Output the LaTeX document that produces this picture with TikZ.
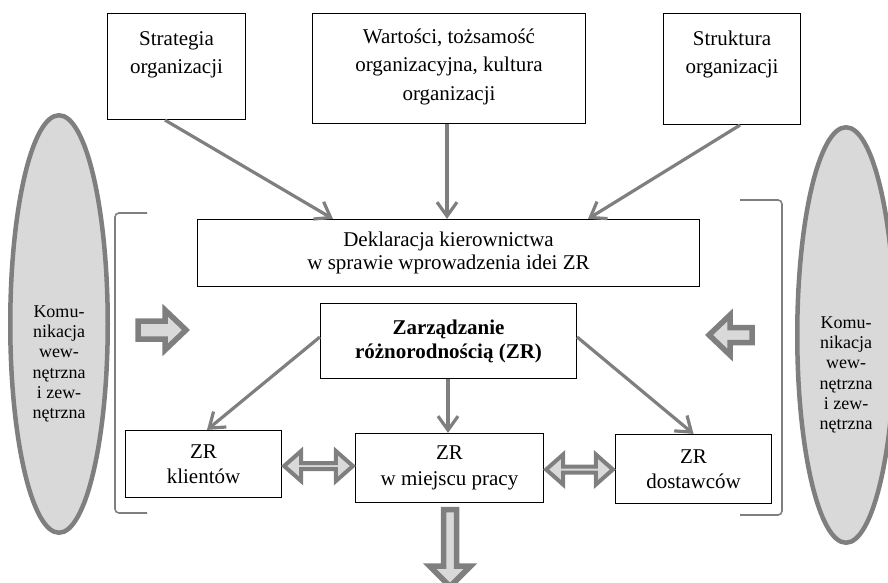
\documentclass[tikz,border=0pt]{standalone}
\usepackage{fontspec}
\setmainfont{Liberation Serif}
\usetikzlibrary{arrows.meta,calc,shapes.geometric}
\definecolor{lg}{HTML}{7F7F7F}
\definecolor{fillg}{HTML}{D9D9D9}
\begin{document}
\begin{tikzpicture}[x=1pt,y=-1pt,
  box/.style={draw=black, line width=1.2pt, inner sep=0pt, align=center,
    font=\fontsize{21}{24}\selectfont},
  toptxt/.style={inner sep=0pt, anchor=north, align=center,
    font=\fontsize{21}{28.5}\selectfont},
  elltxt/.style={inner sep=0pt, anchor=north, align=center,
    font=\fontsize{18}{20.3}\selectfont},
  ell/.style={ellipse, draw=lg, fill=fillg, line width=4.5pt, inner sep=0pt},
  conn/.style={draw=lg, line width=3.2pt, -{Straight Barb[length=14pt,width=20pt]}},
  blk/.style={draw=lg, fill=fillg, line width=5.5pt, line join=miter},
  blkthin/.style={draw=lg, fill=fillg, line width=4pt, line join=miter},
  brk/.style={draw=lg, line width=1.6pt, rounded corners=4pt}
]
\useasboundingbox (0,0) rectangle (888,583);

% side ellipses
\node[ell, minimum width=97.5pt, minimum height=417.5pt] (ell1) at (59,324) {};
\node[elltxt] (ell1t) at (59,303.5) {\rule{0pt}{13.5pt}Komu-\\nikacja\\wew-\\nętrzna\\i zew-\\nętrzna};
\node[ell, minimum width=97.5pt, minimum height=415.5pt] (ell2) at (846,335) {};
\node[elltxt] (ell2t) at (846,314.5) {\rule{0pt}{13.5pt}Komu-\\nikacja\\wew-\\nętrzna\\i zew-\\nętrzna};

% top boxes
\node[box, minimum width=138pt, minimum height=106pt] (str) at (176.5,66.5) {};
\node[toptxt] (strt) at (176.5,29.25) {\rule{0pt}{15.75pt}Strategia\\organizacji};
\node[box, minimum width=273pt, minimum height=110pt] (war) at (449,68.5) {};
\node[toptxt] (wart) at (449,27.25) {\rule{0pt}{15.75pt}Wartości, tożsamość\\organizacyjna, kultura\\organizacji};
\node[box, minimum width=137pt, minimum height=111pt] (stu) at (732,69) {};
\node[toptxt] (stut) at (732,29.25) {\rule{0pt}{15.75pt}Struktura\\organizacji};

% central boxes
\node[box, minimum width=502pt, minimum height=67pt,
  font=\fontsize{21}{23}\selectfont] (dek) at (448.5,253) {Deklaracja kierownictwa\\w sprawie wprowadzenia idei ZR};
\node[box, minimum width=256pt, minimum height=75pt,
  font=\fontsize{21}{24}\selectfont\bfseries] (zr) at (448.5,341) {Zarządzanie\\różnorodnością (ZR)};
\node[box, minimum width=156pt, minimum height=67pt,
  font=\fontsize{21}{25}\selectfont] (kl) at (203.5,464) {ZR\\klientów};
\node[box, minimum width=188pt, minimum height=69pt,
  font=\fontsize{21}{26}\selectfont] (mid) at (449.5,468) {ZR\\w miejscu pracy};
\node[box, minimum width=156pt, minimum height=69pt,
  font=\fontsize{21}{25}\selectfont] (dos) at (693.5,469) {ZR\\dostawców};

% brackets
\draw[brk] (147,213) -- (115,213) -- (115,513) -- (147,513);
\draw[brk] (740,200) -- (782,200) -- (782,515) -- (740,515);

% connectors
\draw[conn] ([xshift=-11.5pt]str.south) -- ([xshift=-115.5pt]dek.north);
\draw[conn] ([xshift=-2pt]war.south) -- ([xshift=-1.5pt]dek.north);
\draw[conn] ([xshift=8pt]stu.south) -- ([xshift=139.5pt]dek.north);
\draw[conn] ([yshift=4pt]zr.west) -- ([xshift=3.5pt]kl.north);
\draw[conn] ([xshift=-0.5pt]zr.south) -- ([xshift=-1.5pt]mid.north);
\draw[conn] ([yshift=4pt]zr.east) -- (dos.north);

% side block arrows
\draw[blk] (138,321) -- (165,321) -- (165,310) -- (186,330) -- (165,350) -- (165,339) -- (138,339) -- cycle;
\draw[blk] (752,327.5) -- (730,327.5) -- (730,315) -- (709,335) -- (730,355) -- (730,342.5) -- (752,342.5) -- cycle;

% double arrows between ZR boxes
\coordinate (dl) at ($(kl.east)!.5!(mid.west)$);
\coordinate (tL1) at ($(kl.east |- dl)+(2pt,0pt)$);
\coordinate (tR1) at ($(mid.west |- dl)+(-2pt,0pt)$);
\draw[blkthin] (tL1) -- ($(tL1)+(17pt,15pt)$) -- ($(tL1)+(17pt,3pt)$) -- ($(tR1)+(-17pt,3pt)$)
  -- ($(tR1)+(-17pt,15pt)$) -- (tR1) -- ($(tR1)+(-17pt,-15pt)$) -- ($(tR1)+(-17pt,-3pt)$)
  -- ($(tL1)+(17pt,-3pt)$) -- ($(tL1)+(17pt,-15pt)$) -- cycle;
\coordinate (dr) at ($(mid.east)!.5!(dos.west)+(0pt,-1pt)$);
\coordinate (tL2) at ($(mid.east |- dr)+(2pt,0pt)$);
\coordinate (tR2) at ($(dos.west |- dr)+(-2pt,0pt)$);
\draw[blkthin] (tL2) -- ($(tL2)+(17pt,15pt)$) -- ($(tL2)+(17pt,3pt)$) -- ($(tR2)+(-17pt,3pt)$)
  -- ($(tR2)+(-17pt,15pt)$) -- (tR2) -- ($(tR2)+(-17pt,-15pt)$) -- ($(tR2)+(-17pt,-3pt)$)
  -- ($(tL2)+(17pt,-3pt)$) -- ($(tL2)+(17pt,-15pt)$) -- cycle;

% down block arrow
\coordinate (m0) at ($(mid.south)+(0.5pt,-6.5pt)$);
\draw[blk] ($(m0)+(-6.5pt,0pt)$) -- ($(m0)+(6.5pt,0pt)$) -- ($(m0)+(6.5pt,-56.5pt)$)
  -- ($(m0)+(20.5pt,-56.5pt)$) -- ($(m0)+(0pt,-77pt)$) -- ($(m0)+(-20.5pt,-56.5pt)$)
  -- ($(m0)+(-6.5pt,-56.5pt)$) -- cycle;
\end{tikzpicture}
\end{document}
